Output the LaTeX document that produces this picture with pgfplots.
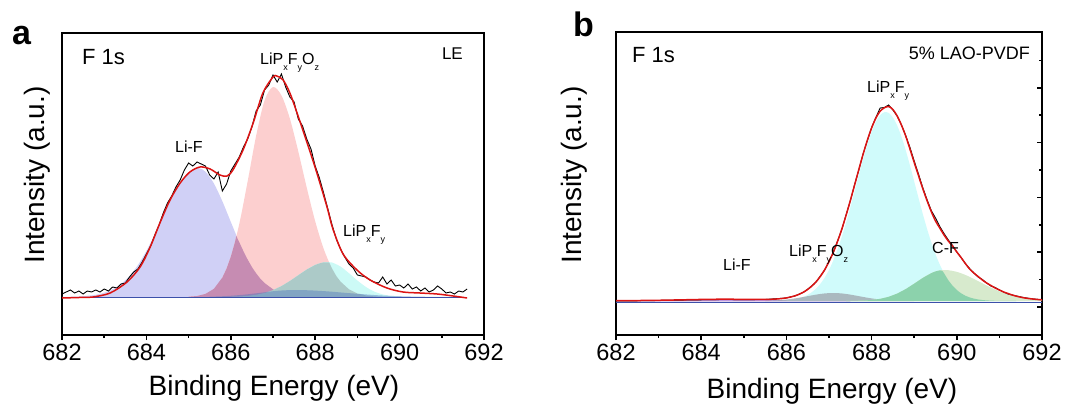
\documentclass[border=0pt]{standalone}
\usepackage{fontspec}
\setmainfont{Liberation Sans}
\usepackage{pgfplots}
\pgfplotsset{compat=1.18}
\definecolor{lf}{RGB}{208,208,246}
\definecolor{pk}{RGB}{252,207,207}
\definecolor{mv}{RGB}{198,140,178}
\definecolor{tl}{RGB}{204,250,246}
\definecolor{gt}{RGB}{172,202,200}
\definecolor{bl}{RGB}{80,120,190}
\definecolor{cy}{RGB}{208,251,251}
\definecolor{pg}{RGB}{215,234,205}
\definecolor{mg}{RGB}{140,210,172}
\definecolor{gy}{RGB}{150,150,160}
\definecolor{pu}{RGB}{190,150,220}
\definecolor{env}{RGB}{220,20,20}
\definecolor{bsl}{RGB}{60,80,170}
\newcommand{\fs}[1]{\fontsize{#1}{#1}\selectfont}
\newcommand{\subs}[1]{\raisebox{-6pt}{\fs{9}#1}}
\pgfplotsset{
  myaxis/.style={
    scale only axis, xmin=682, xmax=692,
    xtick={682,684,...,692}, minor x tick num=1, xtick pos=left,
    tick align=outside, major tick length=5pt, minor tick length=3pt,
    tick style={line width=1.5pt, black},
    axis line style={line width=1.8pt},
    tick label style={font=\fs{23.5}},
    /pgf/number format/assume math mode=true,
    /pgf/number format/1000 sep={},
    xticklabel style={yshift=-1pt},
  }
}
\begin{document}
\begin{tikzpicture}[x=1pt,y=1pt]
% ---------------- panel a ----------------
\begin{axis}[myaxis, at={(62pt,70pt)}, anchor=south west, width=422pt, height=302pt,
  ymin=-38, ymax=264, ytick=\empty]
\addplot[draw=none, fill=lf, smooth] coordinates {(682.0,0.1) (682.4,0.5) (682.8,2.2) (683.0,4.3) (683.2,7.7) (683.4,13.1) (683.6,21.0) (683.8,32.0) (684.0,46.1) (684.2,62.8) (684.4,81.0) (684.6,98.9) (684.8,114.2) (685.0,124.7) (685.22,129) (685.4,125.3) (685.6,113.5) (685.8,95.7) (686.0,75.1) (686.2,54.9) (686.4,37.4) (686.6,23.7) (686.8,14.0) (687.0,7.7) (687.2,4.0) (687.4,1.9) (687.6,0.8) (687.8,0.3) (688.0,0.1) (688.4,0)} \closedcycle;
\addplot[draw=none, fill=pk, smooth] coordinates {(685.0,0.3) (685.2,1.0) (685.4,3.1) (685.6,8.2) (685.8,19.4) (686.0,40.2) (686.2,72.9) (686.4,115.8) (686.6,161.2) (686.8,196.6) (687.0,210) (687.2,201.6) (687.4,178.4) (687.6,145.4) (687.8,109.3) (688.0,75.7) (688.2,48.3) (688.4,28.4) (688.6,15.4) (688.8,7.7) (689.0,3.5) (689.2,1.5) (689.4,0.6) (689.6,0.2) (689.8,0)} \closedcycle;
\addplot[draw=none, fill=tl, smooth] coordinates {(686.0,0.2) (686.2,0.5) (686.4,1.1) (686.6,2.2) (686.8,4.0) (687.0,6.9) (687.2,10.9) (687.4,16.0) (687.6,21.8) (687.8,27.5) (688.0,32.1) (688.2,34.7) (688.3,35) (688.4,34.5) (688.6,30.5) (688.8,23.8) (689.0,16.5) (689.2,10.1) (689.4,5.4) (689.6,2.6) (689.8,1.1) (690.0,0.4) (690.2,0.1) (690.4,0)} \closedcycle;
\addplot[draw=none, fill=mv] coordinates {(685.0,0.3) (685.2,1.0) (685.4,3.1) (685.6,8.2) (685.8,19.4) (685.9,28.4) (686.0,40.2) (686.1,55.0) (686.13,61) (686.2,54.9) (686.3,45.7) (686.4,37.4) (686.5,30.0) (686.6,23.7) (686.7,18.3) (686.8,14.0) (687.0,7.7) (687.2,4.0) (687.4,1.9) (687.6,0.8) (687.8,0.3) (688.0,0.1) (688.2,0)} \closedcycle;
\addplot[draw=none, fill=gt] coordinates {(686.0,0.2) (686.2,0.5) (686.4,1.1) (686.6,2.2) (686.8,4.0) (687.0,6.9) (687.2,10.9) (687.4,16.0) (687.6,21.8) (687.8,27.5) (688.0,32.1) (688.1,33.6) (688.2,34.7) (688.33,34.7) (688.4,28.4) (688.5,21.0) (688.6,15.4) (688.8,7.7) (689.0,3.5) (689.2,1.5) (689.4,0.6) (689.6,0.2) (689.8,0)} \closedcycle;
\addplot[draw=none, fill=bl, fill opacity=0.45, smooth] coordinates {(685.5,0.3) (685.9,0.95) (686.3,2.3) (686.7,4.2) (687.1,6.2) (687.5,7) (687.9,6.6) (688.3,5.6) (688.7,4.2) (689.1,2.9) (689.5,1.7) (689.9,0.95) (690.3,0.46) (690.7,0.2) (691.1,0.08) (691.5,0)} \closedcycle;
\addplot[bsl, line width=0.8pt] coordinates {(682,-0.5) (691.6,-0.5)};
\addplot[black, line width=0.9pt] coordinates {(682.0,3) (682.1,5) (682.2,7) (682.3,4) (682.4,6) (682.5,3) (682.6,6) (682.7,5) (682.8,7) (682.9,5) (683.0,8) (683.1,6) (683.2,10) (683.3,9) (683.4,13) (683.5,14) (683.6,20) (683.7,25) (683.8,28) (683.9,35) (684.0,43) (684.1,51) (684.2,62) (684.3,72) (684.4,84) (684.5,94) (684.6,101) (684.7,110) (684.8,117) (684.9,127) (685.0,134) (685.1,131) (685.2,135) (685.3,133) (685.4,131) (685.5,122) (685.6,118) (685.7,125) (685.8,106) (685.9,113) (686.0,126) (686.1,133) (686.2,140) (686.3,150) (686.4,158) (686.5,170) (686.6,186) (686.7,192) (686.8,207) (686.9,212) (687.0,222) (687.1,215) (687.2,223) (687.3,210) (687.4,200) (687.5,195) (687.6,178) (687.7,171) (687.8,158) (687.9,148) (688.0,131) (688.1,119) (688.2,104) (688.3,88) (688.4,72) (688.5,58) (688.6,48) (688.7,40) (688.8,33) (688.9,29) (689.0,22) (689.1,21) (689.2,20) (689.3,17) (689.4,15) (689.5,14) (689.6,20) (689.7,13) (689.8,17) (689.9,11) (690.0,12) (690.1,9) (690.2,13) (690.3,8) (690.4,10) (690.5,6) (690.6,9) (690.7,5) (690.8,7) (690.9,11) (691.0,8) (691.1,4) (691.2,5) (691.3,3) (691.4,6) (691.5,5) (691.6,8)};
\addplot[env, line width=1.5pt, smooth] coordinates {(682.0,-1) (682.4,-0.5) (682.73,0) (683.14,4) (683.54,15) (683.85,30) (684.09,50) (684.32,74) (684.56,97) (684.80,114) (685.03,125) (685.27,130) (685.51,128) (685.74,122) (685.91,121) (686.05,127) (686.29,147) (686.53,174) (686.76,204) (687.00,220) (687.09,221) (687.24,217) (687.40,204) (687.57,184) (687.81,154) (688.04,124) (688.28,90) (688.42,68) (688.66,43) (688.99,27) (689.30,17) (689.70,9) (690.08,5) (690.48,4) (690.89,3) (691.27,1) (691.6,-1)};
\end{axis}
% ---------------- panel b ----------------
\begin{axis}[myaxis, at={(616pt,70pt)}, anchor=south west, width=426pt, height=303pt,
  ymin=-34, ymax=269, ytick pos=right,
  ytick={-6,48.8,103.6,158.4,213.2}, minor ytick={21.4,76.2,131,185.8,240.6},
  yticklabels={},
  every major y tick/.append style={xshift=-5pt},
  every minor y tick/.append style={xshift=-3pt}]
\addplot[draw=pu, line width=0.6pt, fill=pu, smooth] coordinates {(682,0.05) (682.5,0.17) (683,0.42) (683.5,0.82) (684,1.25) (684.6,1.5) (685,1.38) (685.5,1.0) (686,0.56) (686.5,0.25) (687,0.08) (687.5,0)} \closedcycle;
\addplot[draw=none, fill=cy, smooth] coordinates {(685.6,0.09) (685.8,0.28) (686.0,0.74) (686.1,1.18) (686.2,1.85) (686.3,2.82) (686.4,4.22) (686.5,6.2) (686.6,8.91) (686.7,12.56) (686.8,17.33) (686.9,23.45) (687.0,31.09) (687.1,40.37) (687.2,51.35) (687.3,64.0) (687.4,78.2) (687.5,93.6) (687.6,109.7) (687.7,126.1) (687.8,141.9) (687.9,156.5) (688.0,169.1) (688.1,179.1) (688.2,185.8) (688.3,188.8) (688.4,188.1) (688.5,183.5) (688.6,175.5) (688.7,164.4) (688.8,150.9) (688.9,135.7) (689.0,119.5) (689.1,103.2) (689.2,87.3) (689.3,72.4) (689.4,58.8) (689.5,46.8) (689.6,36.5) (689.7,27.8) (689.8,20.8) (689.9,15.3) (690.0,11.0) (690.1,7.7) (690.2,5.3) (690.3,3.6) (690.4,2.4) (690.5,1.55) (690.6,0.98) (690.7,0.61) (690.8,0.37) (690.9,0.22) (691.0,0.13) (691.2,0.04) (691.4,0.01) (691.6,0)} \closedcycle;
\addplot[draw=none, fill=gy, fill opacity=0.65, smooth] coordinates {(685.5,0.23) (685.6,0.35) (685.7,0.53) (685.8,0.77) (685.9,1.08) (686.0,1.49) (686.1,2.0) (686.2,2.6) (686.3,3.29) (686.4,4.05) (686.5,4.85) (686.6,5.65) (686.7,6.41) (686.8,7.06) (686.9,7.57) (687.0,7.89) (687.1,8) (687.2,7.89) (687.3,7.57) (687.4,7.06) (687.5,6.41) (687.6,5.65) (687.7,4.85) (687.8,4.05) (687.9,3.29) (688.0,2.6) (688.1,2.0) (688.2,1.49) (688.3,1.08) (688.4,0.77) (688.5,0.53) (688.6,0.35) (688.7,0.23) (689.0,0)} \closedcycle;
\addplot[draw=none, fill=pg, smooth] coordinates {(687.4,0.06) (687.6,0.17) (687.8,0.43) (688.0,1.01) (688.1,1.5) (688.2,2.16) (688.3,3.05) (688.4,4.19) (688.5,5.64) (688.6,7.41) (688.7,9.5) (688.8,11.89) (688.9,14.54) (689.0,17.36) (689.1,20.25) (689.2,23.06) (689.3,25.65) (689.4,27.87) (689.5,29.57) (689.6,30.63) (689.7,31) (689.8,30.79) (689.9,30.15) (690.0,29.13) (690.1,27.75) (690.2,26.07) (690.3,24.16) (690.4,22.08) (690.5,19.91) (690.6,17.7) (690.7,15.52) (690.8,13.42) (690.9,11.45) (691.0,9.63) (691.1,7.99) (691.2,6.53) (691.3,5.27) (691.4,4.19) (691.5,3.29) (691.6,2.55) (691.7,1.95) (691.8,1.47) (691.9,1.09) (692.0,0.8)} \closedcycle;
\addplot[draw=none, fill=mg] coordinates {(687.4,0.06) (687.6,0.17) (687.8,0.43) (688.0,1.01) (688.2,2.16) (688.4,4.19) (688.6,7.41) (688.8,11.89) (689.0,17.36) (689.2,23.06) (689.4,27.87) (689.5,29.57) (689.6,30.63) (689.66,30.2) (689.7,27.8) (689.8,20.8) (689.9,15.3) (690.0,11.0) (690.1,7.7) (690.2,5.3) (690.3,3.6) (690.4,2.4) (690.5,1.55) (690.6,0.98) (690.7,0.61) (690.8,0.37) (690.9,0.22) (691.0,0.13) (691.2,0.04) (691.4,0)} \closedcycle;
\addplot[bsl, line width=0.9pt] coordinates {(682,-1.5) (692,-1.5)};
\addplot[black, line width=0.9pt] coordinates {(682,0) (682.5,0.2) (683,0.5) (683.5,0.9) (684,1.2) (684.5,1.5) (685,1.4) (685.5,1.5) (686.0,3.0) (686.1,4.2) (686.2,5.0) (686.3,6.9) (686.4,8.6) (686.5,11.8) (686.6,15.3) (686.7,19.1) (686.8,25.2) (686.9,31.0) (687.0,39.8) (687.1,48.2) (687.2,60.0) (687.3,71.3) (687.4,86.1) (687.5,100.0) (687.6,116.4) (687.7,131.0) (687.8,147.2) (687.9,160.3) (688.0,173.6) (688.1,183.5) (688.2,193.0) (688.3,193.5) (688.4,196.0) (688.5,191.0) (688.6,185.0) (688.7,176.0) (688.8,165.5) (688.9,153.5) (689.0,140.0) (689.1,127.0) (689.2,113.5) (689.3,101.5) (689.4,90.5) (689.5,83.0) (689.6,74.5) (689.7,67.5) (689.8,61.0) (689.9,55.5) (690.0,49.0) (690.1,43.5) (690.2,37.5) (690.3,32.5) (690.4,28.0) (690.5,24.0) (690.6,21.5) (690.7,18.0) (690.8,15.0) (690.9,13.5) (691.0,11.0) (691.2,7.0) (691.4,5.0) (691.6,3.2) (691.8,2.0) (692.0,1.2)};
\addplot[env, line width=1.5pt, smooth] coordinates {(682.0,0.35) (682.5,0.47) (683,0.72) (683.5,1.12) (684,1.55) (684.5,1.8) (685,1.68) (685.5,1.58) (685.8,2.08) (686.0,3.09) (686.1,3.97) (686.2,5.17) (686.3,6.76) (686.4,8.86) (686.5,11.6) (686.6,15.06) (686.7,19.43) (686.8,24.82) (686.9,31.42) (687.0,39.36) (687.1,48.73) (687.2,59.54) (687.3,71.87) (687.4,85.62) (687.5,100.4) (687.6,115.8) (687.7,131.5) (687.8,146.7) (687.9,160.8) (688.0,173.0) (688.1,182.9) (688.2,189.8) (688.3,193.2) (688.4,194.5) (688.5,191.5) (688.6,185.0) (688.7,176.0) (688.8,165.0) (688.9,152.0) (689.0,138.5) (689.1,125.5) (689.2,112.5) (689.3,100.5) (689.4,89.5) (689.5,80) (689.6,73) (689.7,66) (689.8,60) (689.9,55) (690.0,49) (690.1,43.5) (690.2,37.5) (690.3,32) (690.4,28) (690.5,24.5) (690.6,21) (690.7,18) (690.8,15.5) (690.9,13) (691.0,11) (691.1,9) (691.2,7.5) (691.3,6) (691.4,4.8) (691.5,3.8) (691.6,3) (691.7,2.4) (691.8,1.9) (691.9,1.5) (692.0,1.2)};
\end{axis}
% ---------------- texts ----------------
\node[anchor=base west, inner sep=0pt] at (12,360) {\fs{34}\bfseries a};
\node[anchor=base west, inner sep=0pt] at (573,368) {\fs{34}\bfseries b};
\node[anchor=base west, inner sep=0pt] at (82,340) {\fs{22}F 1s};
\node[anchor=base west, inner sep=0pt] at (632,342) {\fs{22}F 1s};
\node[anchor=base east, inner sep=0pt] at (463,345) {\fs{17}LE};
\node[anchor=base east, inner sep=0pt] at (1030,345) {\fs{18}5\% LAO-PVDF};
\node[anchor=base west, inner sep=0pt] at (175,253) {\fs{16}Li-F};
\node[anchor=base west, inner sep=0pt] at (260,340) {\fs{16}LiP\subs{x}F\subs{y}O\subs{z}};
\node[anchor=base west, inner sep=0pt] at (343,169) {\fs{16}LiP\subs{x}F\subs{y}};
\node[anchor=base west, inner sep=0pt] at (867,312) {\fs{16}LiP\subs{x}F\subs{y}};
\node[anchor=base west, inner sep=0pt] at (723,135) {\fs{16}Li-F};
\node[anchor=base west, inner sep=0pt] at (789,149) {\fs{16}LiP\subs{x}F\subs{y}O\subs{z}};
\node[anchor=base west, inner sep=0pt] at (932,152) {\fs{16}C-F};
\node[anchor=base, inner sep=0pt] at (274,10) {\fs{28}Binding Energy (eV)};
\node[anchor=base, inner sep=0pt] at (832,7) {\fs{28}Binding Energy (eV)};
\node[rotate=90, inner sep=0pt] at (37,230) {\fs{28}Intensity (a.u.)};
\node[rotate=90, inner sep=0pt] at (574,230) {\fs{28}Intensity (a.u.)};
\pgfresetboundingbox
\path[use as bounding box] (0,0) rectangle (1073,405);
\end{tikzpicture}
\end{document}
